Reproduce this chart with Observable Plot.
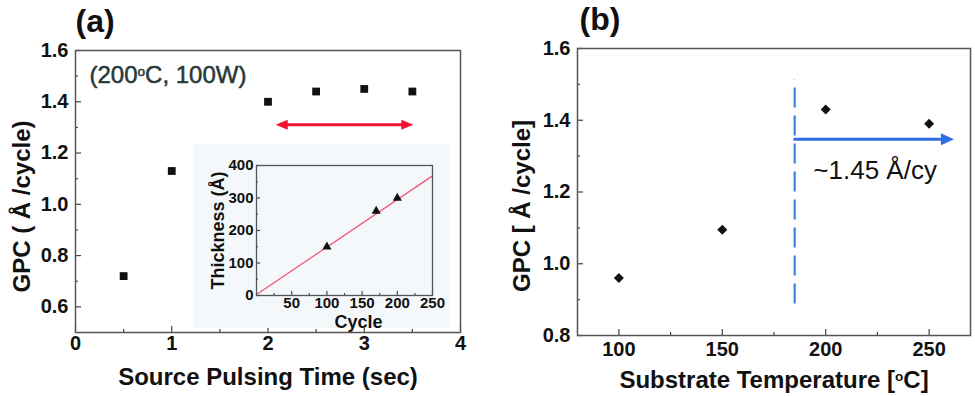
<!DOCTYPE html>
<html><head><meta charset="utf-8">
<script src="https://cdn.jsdelivr.net/npm/d3@7"></script>
<script src="https://cdn.jsdelivr.net/npm/@observablehq/plot@0.6"></script>
<style>
body{margin:0;background:#fff}
#wrap{position:relative;width:975px;height:396px;overflow:hidden}
#wrap svg{position:absolute;overflow:visible}
</style></head>
<body><div id="wrap"></div>
<script>
// ---- Panel (a) data ----
const pulseTime = [0.5, 1, 2, 2.5, 3, 3.5];
const gpcA = [0.72, 1.13, 1.40, 1.44, 1.45, 1.44];
const ticksAx = [0, 1, 2, 3, 4];
const minorAx = [0.5, 1.5, 2.5, 3.5];
const ticksAy = [0.6, 0.8, 1.0, 1.2, 1.4, 1.6];
const minorAy = [0.7, 0.9, 1.1, 1.3, 1.5];
const arrowA = [{x1: 2.08, x2: 3.51, y: 1.31}];
const noteA = [{x: 0.145, y: 1.502, text: "(200°C, 100W)"}];
// ---- Inset data ----
const cycles = [100, 170, 200];
const thickness = [150, 260, 300];
const fitCycle = [0, 250];
const fitThickness = [3, 368];
const ticksIx = [50, 100, 150, 200, 250];
const minorIx = [25, 75, 125, 175, 225];
const ticksIy = [0, 100, 200, 300, 400];
const minorIy = [50, 150, 250, 350];
// ---- Panel (b) data ----
const temps = [100, 150, 200, 250];
const gpcB = [0.96, 1.095, 1.43, 1.39];
const ticksBx = [100, 150, 200, 250];
const minorBx = [125, 175, 225];
const ticksBy = [0.8, 1.0, 1.2, 1.4, 1.6];
const minorBy = [0.9, 1.1, 1.3, 1.5];
const dashB = [{x: 185, y1: 0.888, y2: 1.513}];
const arrowB = [{x1: 185, x2: 262, y: 1.347}];
const noteB = [{x: 194, y: 1.259, text: "~1.45 Å/cy"}];

const FONT = '"Liberation Sans", Arial, Helvetica, sans-serif';
const wrap = document.getElementById("wrap");
function place(svg, left, top) {
  svg.style.left = left + "px"; svg.style.top = top + "px";
  wrap.appendChild(svg);
}
function superO(svg) {
  d3.select(svg).selectAll("text").each(function () {
    const t = this.textContent;
    if (!t.includes("°") || this.querySelector("tspan")) return;
    const fs = parseFloat(getComputedStyle(this).fontSize) || 20;
    const [a, b] = t.split("°");
    const s = d3.select(this).text(null);
    s.append("tspan").text(a);
    s.append("tspan").attr("font-size", fs * 0.68).attr("dy", -fs * 0.36).text("o");
    s.append("tspan").attr("dy", fs * 0.36).text(b);
  });
}
function axes(dim, major, minor, {fontSize, pad, len = 6, mlen = 3}) {
  const A = dim === "x" ? Plot.axisX : Plot.axisY;
  return [
    A(major, {tickSize: 0, tickPadding: pad, fontSize, label: null, fill: "#111"}),
    A(major, {tickSize: -len, fill: "none", label: null, stroke: "#444", strokeWidth: 1.2}),
    A(minor, {tickSize: -mlen, fill: "none", label: null, stroke: "#444", strokeWidth: 1.2})
  ];
}

// ---- Panel (a) ----
const plotA = Plot.plot({
  width: 480, height: 396,
  marginLeft: 75, marginTop: 50, marginRight: 20, marginBottom: 64,
  style: {fontFamily: FONT, fontWeight: "bold", color: "#111", background: "transparent"},
  x: {domain: [0, 4]},
  y: {domain: [0.5, 1.6]},
  marks: [
    ...axes("x", ticksAx, minorAx, {fontSize: 20, pad: 3}),
    ...axes("y", ticksAy, minorAy, {fontSize: 20, pad: 7}),
    Plot.dot(pulseTime, {x: d => d, y: (d, i) => gpcA[i], symbol: "square", r: 4.4, fill: "#111", stroke: "none"}),
    Plot.arrow(arrowA, {x1: "x1", x2: "x2", y1: "y", y2: "y", stroke: "#f0142e", strokeWidth: 3, headLength: 0, insetStart: 8, insetEnd: 8}),
    Plot.vector(arrowA, {x: "x2", y: "y", rotate: 90, length: 12, r: 5, shape: "spike", anchor: "end", fill: "#f0142e", stroke: "none"}),
    Plot.vector(arrowA, {x: "x1", y: "y", rotate: -90, length: 12, r: 5, shape: "spike", anchor: "end", fill: "#f0142e", stroke: "none"}),
    Plot.text(noteA, {x: "x", y: "y", text: "text", textAnchor: "start", fontSize: 24, fontWeight: "normal", fill: "#263838", stroke: "#263838", strokeWidth: 0.5}),
    Plot.text(["(a)"], {frameAnchor: "top-left", text: d => d, textAnchor: "start", lineAnchor: "middle", dy: -29, dx: 0, fontSize: 32}),
    Plot.text(["Source Pulsing Time (sec)"], {frameAnchor: "bottom", text: d => d, lineAnchor: "middle", dy: 45, fontSize: 24}),
    Plot.text(["GPC ( Å /cycle)"], {frameAnchor: "left", text: d => d, rotate: -90, textAnchor: "middle", lineAnchor: "middle", dx: -53, dy: 15, fontSize: 24}),
    Plot.frame({stroke: "#555", strokeWidth: 1.5})
  ]
});
superO(plotA);
place(plotA, 0, 0);

// ---- Inset ----
const plotI = Plot.plot({
  width: 256, height: 184,
  marginLeft: 63, marginRight: 17, marginTop: 21, marginBottom: 33,
  style: {fontFamily: FONT, fontWeight: "bold", color: "#111", background: "#f5f8fb"},
  x: {domain: [0, 250]},
  y: {domain: [0, 400]},
  marks: [
    ...axes("x", ticksIx, minorIx, {fontSize: 15, pad: 2, len: 4, mlen: 2}),
    ...axes("y", ticksIy, minorIy, {fontSize: 15, pad: 3, len: 4, mlen: 2}),
    Plot.line(fitCycle, {x: d => d, y: (d, i) => fitThickness[i], stroke: "#f2587a", strokeWidth: 1.3}),
    Plot.dot(cycles, {x: d => d, y: (d, i) => thickness[i], symbol: "triangle", r: 3.4, fill: "#111", stroke: "none"}),
    Plot.text(["Cycle"], {frameAnchor: "bottom", text: d => d, lineAnchor: "middle", dx: 14, dy: 27, fontSize: 18}),
    Plot.text(["Thickness (Å)"], {frameAnchor: "left", text: d => d, rotate: -90, textAnchor: "middle", lineAnchor: "middle", dx: -38, dy: 0, fontSize: 18}),
    Plot.frame({stroke: "#555", strokeWidth: 1.3})
  ]
});
place(plotI, 193, 144);

// ---- Panel (b) ----
const plotB = Plot.plot({
  width: 495, height: 396,
  marginLeft: 97, marginTop: 48, marginRight: 5, marginBottom: 61,
  style: {fontFamily: FONT, fontWeight: "bold", color: "#111", background: "transparent"},
  x: {domain: [80, 270]},
  y: {domain: [0.8, 1.6]},
  marks: [
    ...axes("x", ticksBx, minorBx, {fontSize: 20, pad: 6}),
    ...axes("y", ticksBy, minorBy, {fontSize: 20, pad: 7}),
    Plot.ruleX(dashB, {x: "x", y1: "y1", y2: "y2", stroke: "#3a84e2", strokeWidth: 2.2, strokeDasharray: "20,8"}),
    Plot.arrow(arrowB, {x1: "x1", x2: "x2", y1: "y", y2: "y", stroke: "#2f6fe6", strokeWidth: 3, headLength: 0, insetEnd: 8}),
    Plot.vector(arrowB, {x: "x2", y: "y", rotate: 90, length: 13, r: 6, shape: "spike", anchor: "end", fill: "#2f6fe6", stroke: "none"}),
    Plot.dot(temps, {x: d => d, y: (d, i) => gpcB[i], symbol: "square", rotate: 45, r: 4, fill: "#111", stroke: "none"}),
    Plot.text(noteB, {x: "x", y: "y", text: "text", textAnchor: "start", fontSize: 26, fontWeight: "normal", fill: "#111"}),
    Plot.text(["(b)"], {frameAnchor: "top-left", text: d => d, textAnchor: "start", lineAnchor: "middle", dy: -29, dx: 2, fontSize: 32}),
    Plot.text(["Substrate Temperature [°C]"], {frameAnchor: "bottom", text: d => d, lineAnchor: "middle", dy: 45, fontSize: 24}),
    Plot.text(["GPC [ Å /cycle]"], {frameAnchor: "left", text: d => d, rotate: -90, textAnchor: "middle", lineAnchor: "middle", dx: -55, dy: 14, fontSize: 24}),
    Plot.frame({stroke: "#555", strokeWidth: 1.5})
  ]
});
superO(plotB);
place(plotB, 480, 0);
</script>
</body></html>
